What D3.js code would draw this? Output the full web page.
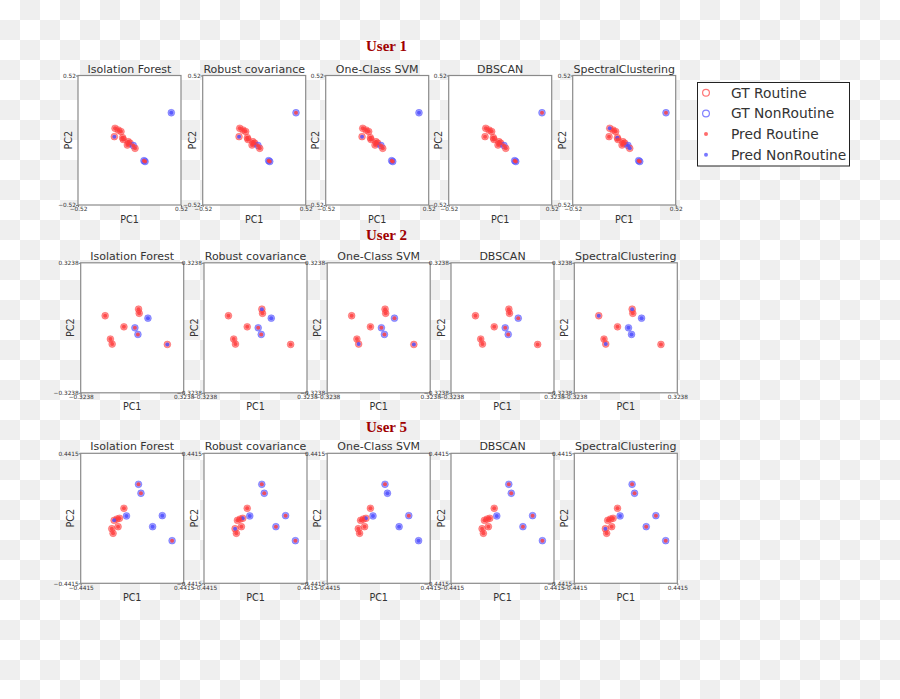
<!DOCTYPE html>
<html>
<head>
<meta charset="utf-8">
<script src="https://cdn.jsdelivr.net/npm/d3@7"></script>
<style>
  html, body { margin: 0; padding: 0; background: #fff; }
  svg { display: block; }
</style>
</head>
<body>
<svg id="chart" width="900" height="699"></svg>
<script>
// ---------------- DATA ----------------
const users = ["User 1", "User 2", "User 5"];
const methods = ["Isolation Forest", "Robust covariance", "One-Class SVM", "DBSCAN", "SpectralClustering"];
const axisLimits = [0.52, 0.3238, 0.4415];
const tickLabels = [["\u22120.52", "0.52"], ["\u22120.3238", "0.3238"], ["\u22120.4415", "0.4415"]];
const legendLabels = ["GT Routine", "GT NonRoutine", "Pred Routine", "Pred NonRoutine"];

// User 1 PCA points [PC1, PC2]
const user1Points = [
  [-0.146, 0.096], [-0.113, 0.082], [-0.086, 0.070], [-0.153, 0.029], [-0.069, 0.020],
  [-0.063, 0.006], [-0.012, -0.012], [-0.022, -0.038], [0.005, -0.024], [0.038, -0.042],
  [0.056, -0.065], [0.146, -0.164], [0.157, -0.171], [0.422, 0.221]
];
// 0 = Routine, 1 = NonRoutine
const user1GT = [0, 0, 0, 0, 0, 0, 0, 0, 0, 1, 0, 1, 1, 1];
const user1Pred = [
  [0, 0, 0, 1, 0, 0, 0, 0, 0, 0, 0, 0, 0, 1],
  [0, 0, 0, 1, 0, 0, 0, 0, 0, 0, 0, 0, 0, 0],
  [0, 0, 0, 1, 0, 0, 0, 0, 0, 0, 0, 0, 0, 1],
  [0, 0, 0, 0, 0, 0, 0, 0, 0, 0, 0, 0, 0, 0],
  [1, 0, 0, 0, 1, 0, 0, 0, 0, 1, 1, 0, 0, 0]
];

// User 2 PCA points
const user2Points = [
  [-0.170, 0.060], [0.040, 0.093], [0.044, 0.072], [0.099, 0.048], [-0.052, 0.005],
  [0.017, 0.000], [0.036, -0.033], [-0.137, -0.056], [-0.126, -0.081], [0.221, -0.083]
];
const user2GT = [0, 0, 0, 1, 0, 1, 1, 0, 0, 0];
const user2Pred = [
  [0, 0, 0, 1, 0, 0, 0, 0, 0, 1],
  [0, 1, 0, 1, 0, 0, 0, 0, 0, 0],
  [0, 0, 0, 0, 0, 0, 0, 0, 1, 1],
  [0, 0, 0, 0, 0, 0, 0, 0, 0, 0],
  [1, 1, 0, 1, 0, 1, 1, 0, 1, 0]
];

// User 5 PCA points
const user5Points = [
  [0.054, 0.231], [0.075, 0.170], [-0.071, 0.068], [-0.049, 0.016], [-0.109, 0.000],
  [-0.131, -0.005], [-0.155, -0.014], [-0.121, -0.057], [-0.175, -0.071], [-0.164, -0.102],
  [0.258, 0.018], [0.175, -0.057], [0.342, -0.152]
];
const user5GT = [1, 1, 0, 1, 0, 0, 0, 0, 0, 0, 1, 1, 1];
const user5Pred = [
  [0, 0, 0, 1, 0, 0, 1, 0, 0, 0, 1, 1, 0],
  [0, 0, 0, 1, 1, 0, 0, 0, 1, 0, 0, 0, 0],
  [0, 1, 0, 1, 1, 0, 0, 0, 0, 0, 0, 1, 1],
  [0, 0, 0, 1, 0, 0, 0, 0, 0, 0, 0, 0, 0],
  [0, 0, 0, 1, 0, 0, 0, 0, 1, 0, 0, 0, 0]
];

const allPoints = [user1Points, user2Points, user5Points];
const allGT = [user1GT, user2GT, user5GT];
const allPred = [user1Pred, user2Pred, user5Pred];

// ---------------- LAYOUT / STYLE ----------------
const W = 900, H = 699;
const rowTops = [75.5, 262.8, 453.3];
const rowHeights = [129.5, 130, 130];
const rowLefts = [
  [78, 202.7, 325.7, 448.7, 572.7],
  [80.7, 204, 327.2, 451, 574.3],
  [80.7, 204, 327.2, 451, 574.3]
];
const panelW = 103;
const userTitleY = [51, 240, 432];
const RED = "#ff3b3b", BLUE = "#4b4bff";
const colorOf = v => v ? BLUE : RED;
const textColor = "#333333";
const font = "DejaVu Sans, sans-serif";

const svg = d3.select("#chart");

// transparency checkerboard background
const defs = svg.append("defs");
const pat = defs.append("pattern").attr("id", "checker")
  .attr("width", 40).attr("height", 40).attr("patternUnits", "userSpaceOnUse");
pat.append("rect").attr("width", 40).attr("height", 40).attr("fill", "#ffffff");
pat.append("rect").attr("x", 20).attr("y", 0).attr("width", 20).attr("height", 20).attr("fill", "#efefef");
pat.append("rect").attr("x", 0).attr("y", 20).attr("width", 20).attr("height", 20).attr("fill", "#efefef");
svg.append("rect").attr("width", W).attr("height", H).attr("fill", "url(#checker)");

users.forEach((uname, ui) => {
  const top = rowTops[ui], h = rowHeights[ui];
  const lim = axisLimits[ui];
  const pts = allPoints[ui], gt = allGT[ui];

  svg.append("text")
    .attr("x", 386.5).attr("y", userTitleY[ui])
    .attr("text-anchor", "middle")
    .attr("font-family", "Liberation Serif, 'Times New Roman', serif")
    .attr("font-weight", "bold").attr("font-size", 15)
    .attr("fill", "#a00000")
    .text(uname);

  methods.forEach((m, mi) => {
    const left = rowLefts[ui][mi];
    const x = d3.scaleLinear().domain([-lim, lim]).range([left, left + panelW]);
    const y = d3.scaleLinear().domain([-lim, lim]).range([top + h, top]);
    const g = svg.append("g");

    g.append("rect").attr("x", left).attr("y", top).attr("width", panelW).attr("height", h)
      .attr("fill", "#ffffff");

    // axes with only two ticks (limits)
    const xAxis = d3.axisBottom(x).tickValues([-lim, lim]).tickSize(2).tickSizeOuter(0)
      .tickFormat((d, i) => tickLabels[ui][i]);
    const yAxis = d3.axisLeft(y).tickValues([-lim, lim]).tickSize(2).tickSizeOuter(0)
      .tickFormat((d, i) => tickLabels[ui][i]);
    const gx = g.append("g").attr("transform", `translate(0,${top + h})`).call(xAxis);
    const gy = g.append("g").attr("transform", `translate(${left},0)`).call(yAxis);
    [gx, gy].forEach(a => {
      a.select(".domain").remove();
      a.selectAll(".tick line").attr("stroke", "#777");
      a.selectAll(".tick text").attr("font-family", font).attr("font-size", 5.8).attr("fill", textColor);
    });
    gx.selectAll(".tick text").attr("dy", "0.6em").attr("y", 3);
    gy.selectAll(".tick text").attr("x", -2);

    // GT circles
    g.append("g").selectAll("circle").data(pts).join("circle")
      .attr("cx", d => x(d[0])).attr("cy", d => y(d[1])).attr("r", 3.4)
      .attr("fill", (d, i) => colorOf(gt[i])).attr("fill-opacity", 0.55)
      .attr("stroke", (d, i) => colorOf(gt[i])).attr("stroke-opacity", 0.45).attr("stroke-width", 0.9);
    // Pred dots
    const pred = allPred[ui][mi];
    g.append("g").selectAll("circle").data(pts).join("circle")
      .attr("cx", d => x(d[0])).attr("cy", d => y(d[1])).attr("r", 2)
      .attr("fill", (d, i) => colorOf(pred[i])).attr("fill-opacity", 0.8);

    // frame
    g.append("rect").attr("x", left).attr("y", top).attr("width", panelW).attr("height", h)
      .attr("fill", "none").attr("stroke", "#8a8a8a").attr("stroke-width", 1.2);

    // title
    g.append("text").attr("x", left + panelW / 2).attr("y", top - 3)
      .attr("text-anchor", "middle").attr("font-family", font).attr("font-size", 11)
      .attr("fill", textColor).text(m);
    // axis labels
    g.append("text").attr("x", left + panelW / 2).attr("y", top + h + 17.5)
      .attr("text-anchor", "middle").attr("font-family", font).attr("font-size", 9.6)
      .attr("fill", textColor).text("PC1");
    g.append("text")
      .attr("transform", `translate(${left - 6.5},${top + h / 2}) rotate(-90)`)
      .attr("text-anchor", "middle").attr("font-family", font).attr("font-size", 9.6)
      .attr("fill", textColor).text("PC2");
  });
});

// legend
const lg = svg.append("g");
lg.append("rect").attr("x", 697.5).attr("y", 82.5).attr("width", 152).attr("height", 83.5)
  .attr("fill", "#ffffff").attr("stroke", "#222").attr("stroke-width", 1);
const legendRowsY = [92.8, 113.5, 134, 154.7];
legendLabels.forEach((lab, i) => {
  const cy = legendRowsY[i];
  const col = (i % 2) ? BLUE : RED;
  if (i < 2) {
    lg.append("circle").attr("cx", 706).attr("cy", cy).attr("r", 3.4)
      .attr("fill", "none").attr("stroke", col).attr("stroke-opacity", 0.7).attr("stroke-width", 1.2);
  } else {
    lg.append("circle").attr("cx", 706).attr("cy", cy).attr("r", 2)
      .attr("fill", col).attr("fill-opacity", 0.75);
  }
  lg.append("text").attr("x", 731).attr("y", cy).attr("dy", "0.35em")
    .attr("font-family", font).attr("font-size", 13.8).attr("fill", textColor).text(lab);
});
</script>
</body>
</html>
